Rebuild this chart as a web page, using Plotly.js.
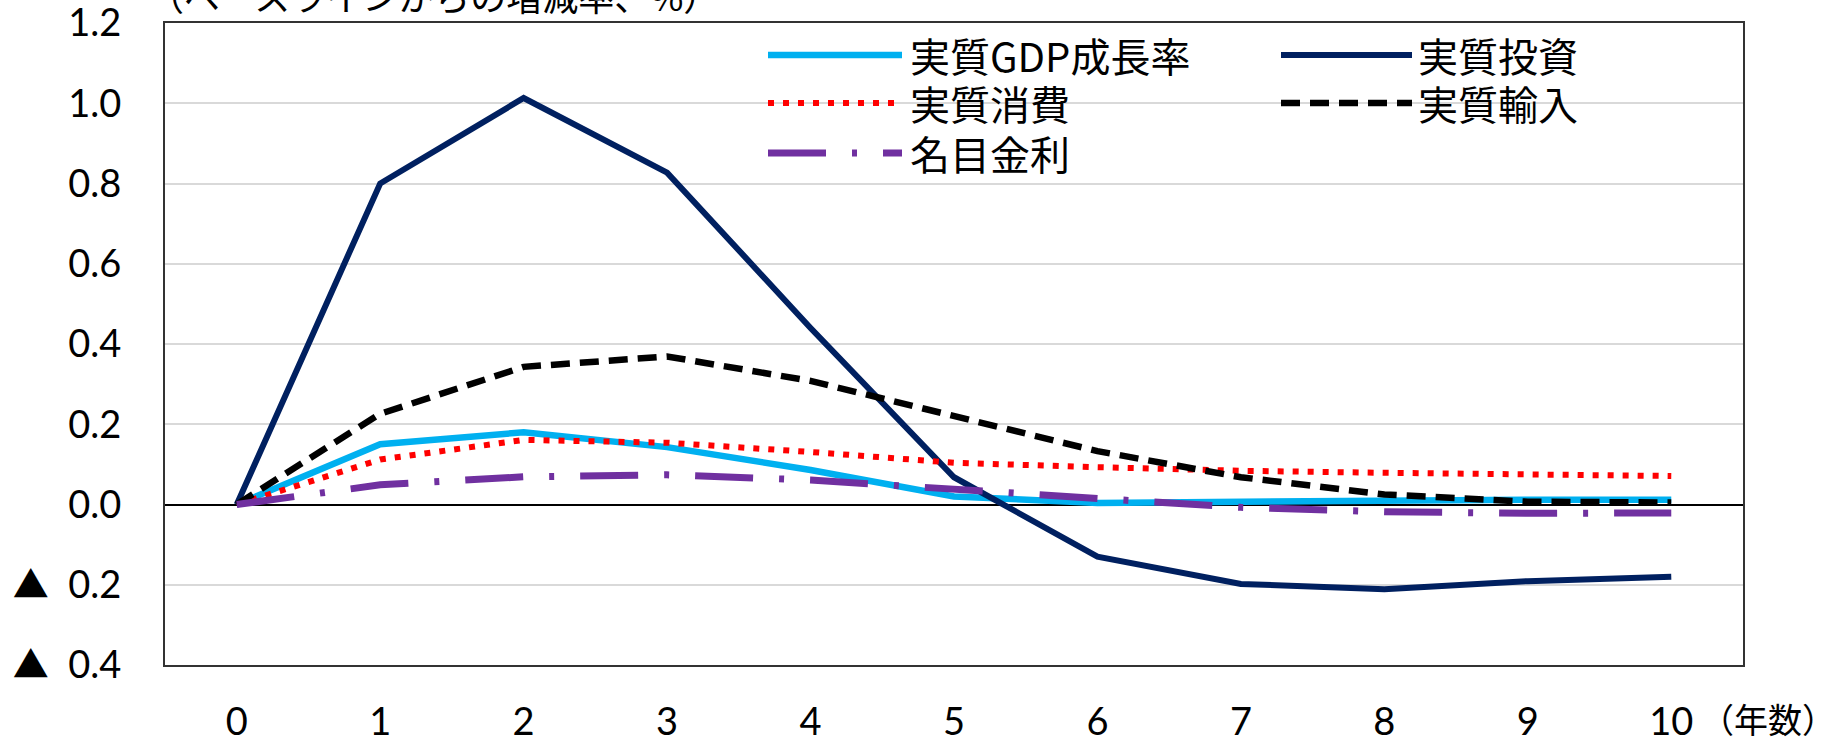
<!DOCTYPE html>
<html>
<head>
<meta charset="utf-8">
<script src="https://cdn.plot.ly/plotly-3.0.1.min.js"></script>
<style>
  html, body { margin: 0; padding: 0; background: #ffffff; }
  #chart { width: 1828px; height: 741px; }
</style>
</head>
<body>
<div id="chart"></div>
<script>
// ---- data ----
const years = [0, 1, 2, 3, 4, 5, 6, 7, 8, 9, 10];
const gdpGrowth   = [0, 0.150, 0.180, 0.143, 0.086, 0.020, 0.004, 0.008, 0.010, 0.012, 0.012];
const investment  = [0, 0.800, 1.013, 0.827, 0.440, 0.068, -0.130, -0.198, -0.211, -0.191, -0.180];
const consumption = [0, 0.112, 0.161, 0.154, 0.131, 0.104, 0.093, 0.084, 0.079, 0.076, 0.071];
const imports     = [0, 0.226, 0.343, 0.369, 0.308, 0.221, 0.133, 0.068, 0.025, 0.007, 0.005];
const nominalRate = [0, 0.049, 0.069, 0.074, 0.061, 0.036, 0.015, -0.007, -0.018, -0.022, -0.021];

const seriesNames = ["実質GDP成長率", "実質投資", "実質消費", "実質輸入", "名目金利"];
const yTickVals = [-0.4, -0.2, 0, 0.2, 0.4, 0.6, 0.8, 1.0, 1.2];
const tri = "<span style='font-family:Noto Sans CJK JP;font-size:36px'>▲</span>";
const yTickText = [tri + "  0.4", tri + "  0.2", "0.0", "0.2", "0.4", "0.6", "0.8", "1.0", "1.2"];
const xTickText = ["0", "1", "2", "3", "4", "5", "6", "7", "8", "9", "10"];
const unitLabel = "（ベースラインからの増減率、%）";
const xUnitLabel = "（年数）";

// ---- styles ----
const styles = [
  {color: "#00B0F0", width: 6.5, dash: "solid"},
  {color: "#002060", width: 6,   dash: "solid"},
  {color: "#FF0000", width: 6,   dash: "6px,9px"},
  {color: "#000000", width: 6.5, dash: "19px,10px"},
  {color: "#7030A0", width: 7,   dash: "58px,26px,5px,26px"}
];
const seriesData = [gdpGrowth, investment, consumption, imports, nominalRate];

const W = 1828, H = 741;
const M = {l: 165, r: 85, t: 23, b: 76};
const plotW = W - M.l - M.r, plotH = H - M.t - M.b;
const px2x = p => (p - M.l) / plotW;
const px2y = p => 1 - (p - M.t) / plotH;

const numFont = "Lato, 'Liberation Sans', 'Noto Sans CJK JP', sans-serif";
const jpFont = "'Noto Sans CJK JP', sans-serif";

const traces = seriesData.map((vals, i) => ({
  type: "scatter",
  mode: "lines",
  x: years,
  y: vals,
  name: seriesNames[i],
  showlegend: false,
  line: {color: styles[i].color, width: styles[i].width, dash: styles[i].dash},
  hoverinfo: "x+y+name"
}));

// custom legend (long line samples like the original)
const legendCols = [{x0: 768, x1: 902, tx: 908}, {x0: 1281, x1: 1412, tx: 1416}];
const legendRows = [55, 103, 153];
const shapes = [];
const annotations = [];
seriesNames.forEach((nm, i) => {
  const col = legendCols[i % 2];
  const rowY = legendRows[Math.floor(i / 2)];
  shapes.push({
    type: "line", xref: "paper", yref: "paper",
    x0: px2x(col.x0), x1: px2x(col.x1), y0: px2y(rowY), y1: px2y(rowY),
    line: {color: styles[i].color, width: styles[i].width, dash: styles[i].dash}
  });
  annotations.push({
    xref: "paper", yref: "paper", x: px2x(col.tx), y: px2y(rowY),
    xanchor: "left", yanchor: "middle", showarrow: false,
    text: nm, font: {family: jpFont, size: 40, color: "#000000"}
  });
});
annotations.push({
  xref: "paper", yref: "paper", x: px2x(146), y: px2y(-5),
  xanchor: "left", yanchor: "middle", showarrow: false,
  text: unitLabel, font: {family: jpFont, size: 36, color: "#000000"}
});
annotations.push({
  xref: "paper", yref: "paper", x: px2x(1698), y: px2y(719),
  xanchor: "left", yanchor: "middle", showarrow: false,
  text: xUnitLabel, font: {family: jpFont, size: 34, color: "#000000"}
});

const layout = {
  width: W, height: H,
  margin: M,
  paper_bgcolor: "#ffffff",
  plot_bgcolor: "#ffffff",
  showlegend: false,
  xaxis: {
    range: [-0.5, 10.5],
    tickmode: "array", tickvals: years, ticktext: xTickText,
    showgrid: false, zeroline: false,
    showline: true, mirror: true, linecolor: "#333333", linewidth: 2,
    ticks: "", ticklabelstandoff: 22, ticklabeloverflow: "allow",
    tickfont: {family: numFont, size: 38, color: "#000000"}
  },
  yaxis: {
    range: [-0.4, 1.2],
    tickmode: "array", tickvals: yTickVals, ticktext: yTickText,
    showgrid: true, gridcolor: "#d9d9d9", gridwidth: 2,
    zeroline: true, zerolinecolor: "#000000", zerolinewidth: 2,
    showline: true, mirror: true, linecolor: "#333333", linewidth: 2,
    ticks: "", ticklabelstandoff: 34, ticklabeloverflow: "allow",
    tickfont: {family: numFont, size: 38, color: "#000000"}
  },
  shapes: shapes,
  annotations: annotations
};

Plotly.newPlot("chart", traces, layout, {displayModeBar: false, staticPlot: true});
</script>
</body>
</html>
